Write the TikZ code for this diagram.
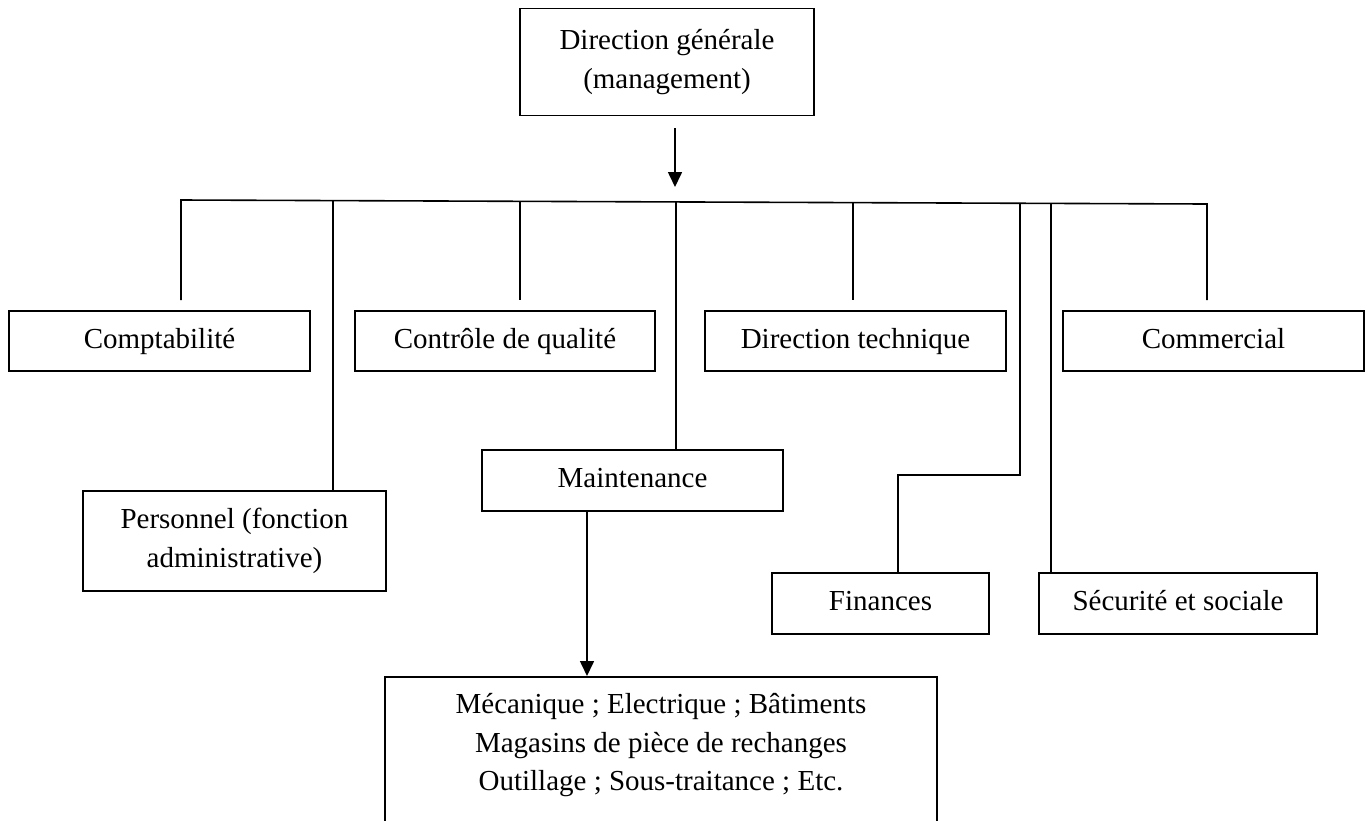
\documentclass[tikz,border=0pt]{standalone}
\usepackage{fontspec}
\setmainfont{Liberation Serif}
\usetikzlibrary{arrows.meta}
\begin{document}
\begin{tikzpicture}[x=1pt,y=-1pt,
  box/.style={draw, line width=1.6pt, inner sep=0pt, align=center,
    font=\fontsize{29}{38.5}\selectfont},
  onebox/.style={box, text height=20pt, text depth=6pt},
  wire/.style={line width=1.6pt},
  arr/.style={wire, -{Triangle[length=15pt,width=14pt]}}]
\useasboundingbox (0,0) rectangle (1371,820);

% General management
\node[box, minimum width=294pt, minimum height=107pt] (dg) at (667,62)
  {Direction générale\\(management)};

% First row of departments
\node[onebox, minimum width=301pt, minimum height=60pt] (compta) at (159.5,341) {Comptabilité};
\node[onebox, minimum width=300pt, minimum height=60pt] (qual) at (505,341) {Contrôle de qualité};
\node[onebox, minimum width=301pt, minimum height=60pt] (tech) at (855.5,341) {Direction technique};
\node[onebox, minimum width=301pt, minimum height=60pt] (comm) at (1213.5,341) {Commercial};

% Lower departments
\node[box, minimum width=303pt, minimum height=100pt] (perso) at (234.5,541)
  {Personnel (fonction\\administrative)};
\node[onebox, minimum width=301pt, minimum height=61pt] (maint) at (632.5,480.5) {Maintenance};
\node[onebox, minimum width=217pt, minimum height=61pt] (fin) at (880.5,603.5) {Finances};
\node[onebox, minimum width=278pt, minimum height=61pt] (secu) at (1178,603.5) {Sécurité et sociale};

% Maintenance services
\node[box, minimum width=552pt, inner ysep=17pt, anchor=north] (meca) at (661,676)
  {Mécanique ; Electrique ; Bâtiments\\Magasins de pièce de rechanges\\Outillage ; Sous-traitance ; Etc.\\\mbox{}};

% Arrow from general management down to the distribution bar
\coordinate (a0) at (675,128);
\coordinate (a1) at (675,187);
\draw[arr] (a0) -- (a1);

% Distribution bar and its branches
\coordinate (barL) at (181,200);
\coordinate (barR) at (1207,204);
\coordinate (cL) at (181,300);
\coordinate (cR) at (1207,300);
\draw[wire] (cL) -- (barL) -- (barR) -- (cR);

\coordinate (b2) at (333,200.6);
\coordinate (b3) at (520,201.3);
\coordinate (b4) at (676,201.9);
\coordinate (b5) at (853,202.6);
\coordinate (b6) at (1020,203.3);
\coordinate (b7) at (1051,203.4);
\coordinate (q3) at (520,300);
\coordinate (q5) at (853,300);
\coordinate (f1) at (1020,475);
\coordinate (f2) at (898,475);

\draw[wire] (b2) -- (b2 |- perso.north);
\draw[wire] (b3) -- (q3);
\draw[wire] (b4) -- (b4 |- maint.north);
\draw[wire] (b5) -- (q5);
\draw[wire] (b6) -- (f1) -- (f2) -- (f2 |- fin.north);
\draw[wire] (b7) -- (b7 |- secu.north);

% Maintenance to its services
\coordinate (m1) at (587,0);
\draw[arr] (maint.south -| m1) -- (meca.north -| m1);
\end{tikzpicture}
\end{document}
